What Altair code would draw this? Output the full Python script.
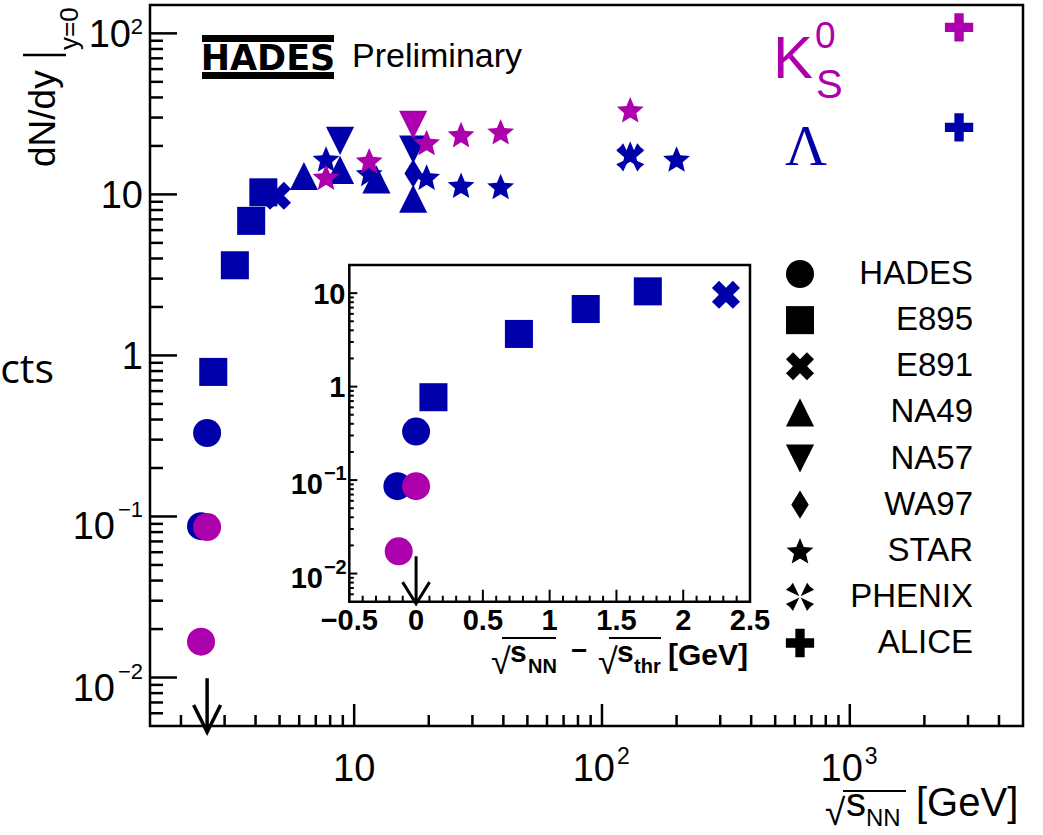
import altair as alt
import pandas as pd
import numpy as np

BLUE = "#0000aa"
MAGENTA = "#ad00ad"

EXPERIMENTS = ["HADES", "E895", "E891", "NA49", "NA57", "WA97", "STAR", "PHENIX", "ALICE"]

# ---- main panel, Lambda ----
LAM_EXP = ["HADES", "HADES", "E895", "E895", "E895", "E895", "E891",
           "NA49", "NA49", "NA49", "NA49", "NA57", "NA57", "WA97",
           "STAR", "STAR", "STAR", "STAR", "STAR", "STAR", "STAR", "PHENIX", "ALICE"]
LAM_SQRTS = [2.41, 2.55, 2.70, 3.30, 3.84, 4.30, 4.88,
             6.27, 8.77, 12.3, 17.3, 8.77, 17.3, 17.3,
             7.7, 11.5, 19.6, 27.0, 39.0, 130, 200, 130, 2760]
LAM_DNDY = [0.087, 0.33, 0.79, 3.63, 6.85, 10.3, 9.8,
            13.0, 14.2, 12.4, 9.4, 21.5, 19.0, 13.5,
            16.6, 13.5, 12.8, 11.4, 11.2, 17.8, 16.6, 17.0, 26.1]

# ---- main panel, K0S ----
K0S_EXP = ["HADES", "HADES", "NA57", "STAR", "STAR", "STAR", "STAR", "STAR", "STAR", "ALICE"]
K0S_SQRTS = [2.41, 2.55, 17.3, 7.7, 11.5, 19.6, 27.0, 39.0, 130, 2760]
K0S_DNDY = [0.0167, 0.086, 27.0, 12.8, 16.2, 21.0, 23.5, 24.5, 33.5, 109]

# ---- inset (sqrt(s_NN) - sqrt(s_thr)) ----
INS_LAM_EXP = ["HADES", "HADES", "E895", "E895", "E895", "E895", "E891"]
INS_LAM_DELTA = [-0.14, 0.0, 0.13, 0.77, 1.27, 1.735, 2.32]
INS_LAM_DNDY = [0.086, 0.33, 0.77, 3.66, 6.76, 10.45, 9.6]
INS_K0S_EXP = ["HADES", "HADES"]
INS_K0S_DELTA = [-0.13, 0.0]
INS_K0S_DNDY = [0.0173, 0.086]

THRESHOLD = 2.55          # sqrt(s_thr) arrow
ARROW_TOP = 0.0099
INS_ARROW_X = 0.0
INS_ARROW_TOP = 0.0153

MAIN_XDOM = [1.5, 5000]
MAIN_YDOM = [0.005, 150]
INS_XDOM = [-0.5, 2.5]
INS_YDOM = [0.005, 20]

# tick labels
MAIN_X_TICKS = [10, 100, 1000]
MAIN_X_SUP = ["", "2", "3"]
MAIN_Y_TICKS = [0.01, 0.1, 1, 10, 100]
MAIN_Y_SUP = ["−2", "−1", "", "", "2"]
INS_X_TICKS = [-0.5, 0, 0.5, 1, 1.5, 2, 2.5]
INS_Y_TICKS = [0.01, 0.1, 1, 10]
INS_Y_SUP = ["−2", "−1", "", ""]

# ---- geometry ----
OX, OY = 150, 5
W, H = 873, 721
IL, IR, IT, IB = 349.3 - OX, 750 - OX, 265 - OY, 601.7 - OY
LAB = "Liberation Sans"


def poly(pts):
    return "M" + "L".join(f"{x:.3f},{y:.3f}" for x, y in pts) + "Z"


def rot45(pts, s):
    c = 1 / np.sqrt(2)
    return [((x - y) * c * s, (x + y) * c * s) for x, y in pts]


t = 0.34
plus_pts = [(-t, -1), (t, -1), (t, -t), (1, -t), (1, t), (t, t), (t, 1), (-t, 1), (-t, t), (-1, t), (-1, -t), (-t, -t)]
X_PATH = poly(rot45(plus_pts, np.sqrt(2) / (1 + t)))
tp = 0.33
PLUS_PATH = poly([(-tp, -1), (tp, -1), (tp, -tp), (1, -tp), (1, tp), (tp, tp), (tp, 1), (-tp, 1), (-tp, tp), (-1, tp), (-1, -tp), (-tp, -tp)])
star = []
for k in range(5):
    a = np.radians(-90 + 72 * k)
    star.append((np.cos(a), np.sin(a) + 0.095))
    b = np.radians(-90 + 36 + 72 * k)
    star.append((0.45 * np.cos(b), 0.45 * np.sin(b) + 0.095))
STAR_PATH = poly(star)
PHENIX_PATH = "".join(
    poly([(0.05 * sx, 0.05 * sy), (sx, 0.5 * sy), (0.72 * sx, 0.72 * sy), (0.5 * sx, sy)])
    for sx, sy in [(-1, -1), (1, -1), (1, 1), (-1, 1)])
SHAPES = ["circle", "square", X_PATH, "M0,-1L1,1L-1,1Z", "M-1,-1L1,-1L0,1Z",
          "M0,-1L0.62,0L0,1L-0.62,0Z", STAR_PATH, PHENIX_PATH, PLUS_PATH]

shape_enc = alt.Shape("exp:N", scale=alt.Scale(domain=EXPERIMENTS, range=SHAPES), legend=None)
color_enc = alt.Color("particle:N", scale=alt.Scale(domain=["Lambda", "K0S"], range=[BLUE, MAGENTA]), legend=None)
size_enc = alt.Size("exp:N", scale=alt.Scale(domain=EXPERIMENTS,
                                               range=[784, 800, 784, 784, 784, 800, 930, 900, 820]), legend=None)

main_x = alt.Scale(type="log", domain=MAIN_XDOM, nice=False)
main_y = alt.Scale(type="log", domain=MAIN_YDOM, nice=False)
ins_x = alt.Scale(domain=INS_XDOM, range=[IL, IR], nice=False, zero=False)
ins_y = alt.Scale(type="log", domain=INS_YDOM, range=[IB, IT], nice=False)

main_df = pd.DataFrame({
    "exp": LAM_EXP + K0S_EXP,
    "particle": ["Lambda"] * len(LAM_EXP) + ["K0S"] * len(K0S_EXP),
    "x": LAM_SQRTS + K0S_SQRTS,
    "y": LAM_DNDY + K0S_DNDY,
})
ins_df = pd.DataFrame({
    "exp": INS_LAM_EXP + INS_K0S_EXP,
    "particle": ["Lambda"] * len(INS_LAM_EXP) + ["K0S"] * len(INS_K0S_EXP),
    "x": INS_LAM_DELTA + INS_K0S_DELTA,
    "y": INS_LAM_DNDY + INS_K0S_DNDY,
})

main_points = alt.Chart(main_df).mark_point(filled=True, opacity=1, strokeWidth=0).encode(
    x=alt.X("x:Q", scale=main_x, axis=None),
    y=alt.Y("y:Q", scale=main_y, axis=None),
    shape=shape_enc, color=color_enc, size=size_enc,
)


def dec_vals(lo, hi, mults):
    out = []
    for d in range(-4, 5):
        for m in mults:
            v = m * 10.0 ** d
            if lo < v < hi:
                out.append(v)
    return out


def xticks(df, scale, ybase, length, sw):
    return alt.Chart(df).mark_rule(color="black", strokeWidth=sw).encode(
        x=alt.X("v:Q", scale=scale, axis=None), y=alt.value(ybase), y2=alt.value(ybase - length))


def yticks(df, scale, xbase, length, sw):
    return alt.Chart(df).mark_rule(color="black", strokeWidth=sw).encode(
        y=alt.Y("v:Q", scale=scale, axis=None), x=alt.value(xbase), x2=alt.value(xbase + length))


def xlabels(vals, texts, scale, y, size, weight="normal", align="center", dx=0):
    df = pd.DataFrame({"v": vals, "t": texts})
    return alt.Chart(df).mark_text(font=LAB, fontSize=size, fontWeight=weight, color="black",
                                   align=align, baseline="alphabetic", dx=dx).encode(
        x=alt.X("v:Q", scale=scale, axis=None), y=alt.value(y), text="t:N")


def ylabels(vals, texts, scale, x, size, dy, weight="normal"):
    df = pd.DataFrame({"v": vals, "t": texts})
    return alt.Chart(df).mark_text(font=LAB, fontSize=size, fontWeight=weight, color="black",
                                   align="right", baseline="alphabetic", dy=dy).encode(
        y=alt.Y("v:Q", scale=scale, axis=None), x=alt.value(x), text="t:N")


mx_major = pd.DataFrame({"v": dec_vals(*MAIN_XDOM, [1])})
mx_minor = pd.DataFrame({"v": dec_vals(*MAIN_XDOM, range(2, 10))})
my_major = pd.DataFrame({"v": dec_vals(*MAIN_YDOM, [1])})
my_minor = pd.DataFrame({"v": dec_vals(*MAIN_YDOM, range(2, 10))})

# main tick labels
mx_plain = [v for v, s in zip(MAIN_X_TICKS, MAIN_X_SUP) if not s]
mx_supv = [v for v, s in zip(MAIN_X_TICKS, MAIN_X_SUP) if s]
mx_sups = [s for s in MAIN_X_SUP if s]
my_plain = [v for v, s in zip(MAIN_Y_TICKS, MAIN_Y_SUP) if not s]
my_plain_t = ["10" if v > 5 else "1" for v in my_plain]
my_pos = [v for v, s in zip(MAIN_Y_TICKS, MAIN_Y_SUP) if s and not s.startswith("−")]
my_pos_s = [s for s in MAIN_Y_SUP if s and not s.startswith("−")]
my_neg = [v for v, s in zip(MAIN_Y_TICKS, MAIN_Y_SUP) if s.startswith("−")]
my_neg_s = [s for s in MAIN_Y_SUP if s.startswith("−")]

main_labels = [
    xlabels(mx_plain, ["10"] * len(mx_plain), main_x, 781 - OY, 38),
    xlabels(mx_supv, ["10"] * len(mx_supv), main_x, 781 - OY, 38, align="right", dx=13),
    xlabels(mx_supv, mx_sups, main_x, 764 - OY, 23, align="left", dx=15),
    ylabels(my_plain, my_plain_t, main_y, -7, 38, 13.6),
    ylabels(my_pos, ["10"] * len(my_pos), main_y, -19, 38, 13.6),
    ylabels(my_pos, my_pos_s, main_y, -7, 22, 1),
    ylabels(my_neg, ["10"] * len(my_neg), main_y, -35, 38, 23),
    ylabels(my_neg, my_neg_s, main_y, -7, 22, 1),
]

arrow_df = pd.DataFrame({"x": [THRESHOLD], "y": [ARROW_TOP]})
main_arrow = alt.Chart(arrow_df).mark_rule(color="black", strokeWidth=3.5).encode(
    x=alt.X("x:Q", scale=main_x, axis=None), y=alt.Y("y:Q", scale=main_y, axis=None), y2=alt.value(H + 5))
main_head = alt.Chart(arrow_df).mark_point(shape="M-1,-1L0,1L1,-1", filled=False, color="black",
                                           strokeWidth=3.5, size=729, opacity=1).encode(
    x=alt.X("x:Q", scale=main_x, axis=None), y=alt.value(H - 7.5))

main_group = alt.layer(
    xticks(mx_major, main_x, H, 22, 2.5), xticks(mx_minor, main_x, H, 11, 2.5),
    yticks(my_major, main_y, 0, 27, 2.5), yticks(my_minor, main_y, 0, 13, 2.5),
    *main_labels,
    main_points, main_arrow, main_head,
)

# ---- inset ----
frame_df = pd.DataFrame({"x0": [INS_XDOM[0]], "x1": [INS_XDOM[1]], "y0": [INS_YDOM[0]], "y1": [INS_YDOM[1]]})
ins_frame = alt.Chart(frame_df).mark_rect(fill="white", stroke="black", strokeWidth=2.5).encode(
    x=alt.X("x0:Q", scale=ins_x, axis=None), x2="x1:Q",
    y=alt.Y("y0:Q", scale=ins_y, axis=None), y2="y1:Q")

ins_points = alt.Chart(ins_df).mark_point(filled=True, opacity=1, strokeWidth=0).encode(
    x=alt.X("x:Q", scale=ins_x, axis=None),
    y=alt.Y("y:Q", scale=ins_y, axis=None),
    shape=shape_enc, color=color_enc, size=size_enc,
)

ix_all = np.round(np.arange(-0.5, 2.5001, 0.1), 2)
ix_major = pd.DataFrame({"v": [v for v in ix_all if abs(v * 2 - round(v * 2)) < 1e-6]})
ix_minor = pd.DataFrame({"v": [v for v in ix_all if abs(v * 2 - round(v * 2)) >= 1e-6]})
iy_major = pd.DataFrame({"v": dec_vals(*INS_YDOM, [1])})
iy_minor = pd.DataFrame({"v": dec_vals(*INS_YDOM, range(2, 10))})


def fmt(v):
    s = f"{abs(v):g}"
    return ("−" + s) if v < 0 else s


iy_plain = [v for v, s in zip(INS_Y_TICKS, INS_Y_SUP) if not s]
iy_plain_t = ["10" if v > 5 else "1" for v in iy_plain]
iy_neg = [v for v, s in zip(INS_Y_TICKS, INS_Y_SUP) if s]
iy_neg_s = [s for s in INS_Y_SUP if s]

ins_labels = [
    xlabels(INS_X_TICKS, [fmt(v) for v in INS_X_TICKS], ins_x, 630 - OY, 29, weight="bold"),
    ylabels(iy_plain, iy_plain_t, ins_y, 345.5 - OX, 29, 10.4, weight="bold"),
    ylabels(iy_neg, ["10"] * len(iy_neg), ins_y, 323 - OX, 29, 14.4, weight="bold"),
    ylabels(iy_neg, iy_neg_s, ins_y, 346.7 - OX, 20, 0, weight="bold"),
]

ins_arrow_df = pd.DataFrame({"x": [INS_ARROW_X], "y": [INS_ARROW_TOP]})
ins_arrow = alt.Chart(ins_arrow_df).mark_rule(color="black", strokeWidth=3).encode(
    x=alt.X("x:Q", scale=ins_x, axis=None), y=alt.Y("y:Q", scale=ins_y, axis=None), y2=alt.value(IB + 2))
ins_head = alt.Chart(ins_arrow_df).mark_point(shape="M-1,-0.8L0,0.8L1,-0.8", filled=False, color="black",
                                              strokeWidth=3, size=729, opacity=1).encode(
    x=alt.X("x:Q", scale=ins_x, axis=None), y=alt.value(IB - 8.8))

inset_group = alt.layer(
    ins_frame,
    xticks(ix_major, ins_x, IB, 12, 2), xticks(ix_minor, ins_x, IB, 6, 2),
    yticks(iy_major, ins_y, IL, 8, 2), yticks(iy_minor, ins_y, IL, 4.5, 2),
    *ins_labels,
    ins_points, ins_arrow, ins_head,
)

# ---- legend ----
leg_df = pd.DataFrame({"exp": EXPERIMENTS})
leg_y = alt.Y("exp:N", sort=EXPERIMENTS,
              scale=alt.Scale(type="point", domain=EXPERIMENTS, range=[274 - OY, 643 - OY], padding=0), axis=None)
leg_sym = alt.Chart(leg_df).mark_point(filled=True, opacity=1, strokeWidth=0, color="black").encode(
    y=leg_y, x=alt.value(800 - OX), shape=shape_enc, size=size_enc)
leg_txt = alt.Chart(leg_df).mark_text(font=LAB, fontSize=33, align="right", baseline="middle", color="black").encode(
    y=leg_y, x=alt.value(973 - OX), text="exp:N")
legend_group = alt.layer(leg_sym, leg_txt)


# ---- decorations ----
def txt(s, x, y, size, color="black", font=LAB, weight="normal", align="left", baseline="alphabetic", angle=0):
    return alt.Chart(pd.DataFrame({"t": [s]})).mark_text(
        font=font, fontSize=size, fontWeight=weight, color=color, align=align, baseline=baseline, angle=angle
    ).encode(text="t:N", x=alt.value(x - OX), y=alt.value(y - OY))


def line(x1, y1, x2, y2, sw, color="black"):
    return alt.Chart(pd.DataFrame({"a": [0]})).mark_rule(color=color, strokeWidth=sw).encode(
        x=alt.value(x1 - OX), y=alt.value(y1 - OY), x2=alt.value(x2 - OX), y2=alt.value(y2 - OY))


decor = [
    # HADES logo + Preliminary
    line(202, 38.5, 334, 38.5, 7), line(202, 75.5, 334, 75.5, 7),
    txt("HADES", 268, 70, 35, font="DejaVu Sans", weight="bold", align="center"),
    txt("Preliminary", 352, 67, 34),
    # particle labels
    txt("K", 773, 78, 60, color=MAGENTA),
    txt("0", 815, 48, 37, color=MAGENTA),
    txt("S", 816, 98, 40, color=MAGENTA),
    txt("Λ", 806, 165, 58, color=BLUE, font="Liberation Serif", align="center"),
    # y title
    txt("dN/dy", 55, 167, 37, angle=270),
    line(23, 55, 66, 55, 2.5),
    txt("y=0", 78, 50, 26, angle=270),
    # x title
    txt("√", 825, 825, 37),
    line(843, 791, 906, 791, 2),
    txt("s", 846, 816, 40),
    txt("NN", 866, 826, 24),
    txt("[GeV]", 916, 816, 40),
    # inset x title
    txt("√", 491, 674, 36), line(502, 638, 556, 638, 2),
    txt("s", 510, 662, 30, weight="bold"), txt("NN", 528, 673, 20, weight="bold"),
    txt("−", 571, 660, 28, weight="bold"),
    txt("√", 598, 674, 36), line(609, 638, 661, 638, 2),
    txt("s", 617, 662, 30, weight="bold"), txt("thr", 634, 673, 20, weight="bold"),
    txt("[GeV]", 668, 665, 30, weight="bold"),
    # slide fragment
    txt("cts", 54, 383, 41, font="Open Sans", align="right"),
]

chart = alt.layer(main_group, inset_group, legend_group, *decor).resolve_scale(
    x="independent", y="independent", size="shared", shape="shared"
).properties(
    width=W, height=H,
    autosize=alt.AutoSizeParams(type="none"),
    padding={"left": OX, "top": OY, "right": 1043 - OX - W, "bottom": 835 - OY - H},
    background="white",
).configure_view(stroke="black", strokeWidth=2.5)

chart.save("out.html", embed_options={"renderer": "svg", "actions": False})
